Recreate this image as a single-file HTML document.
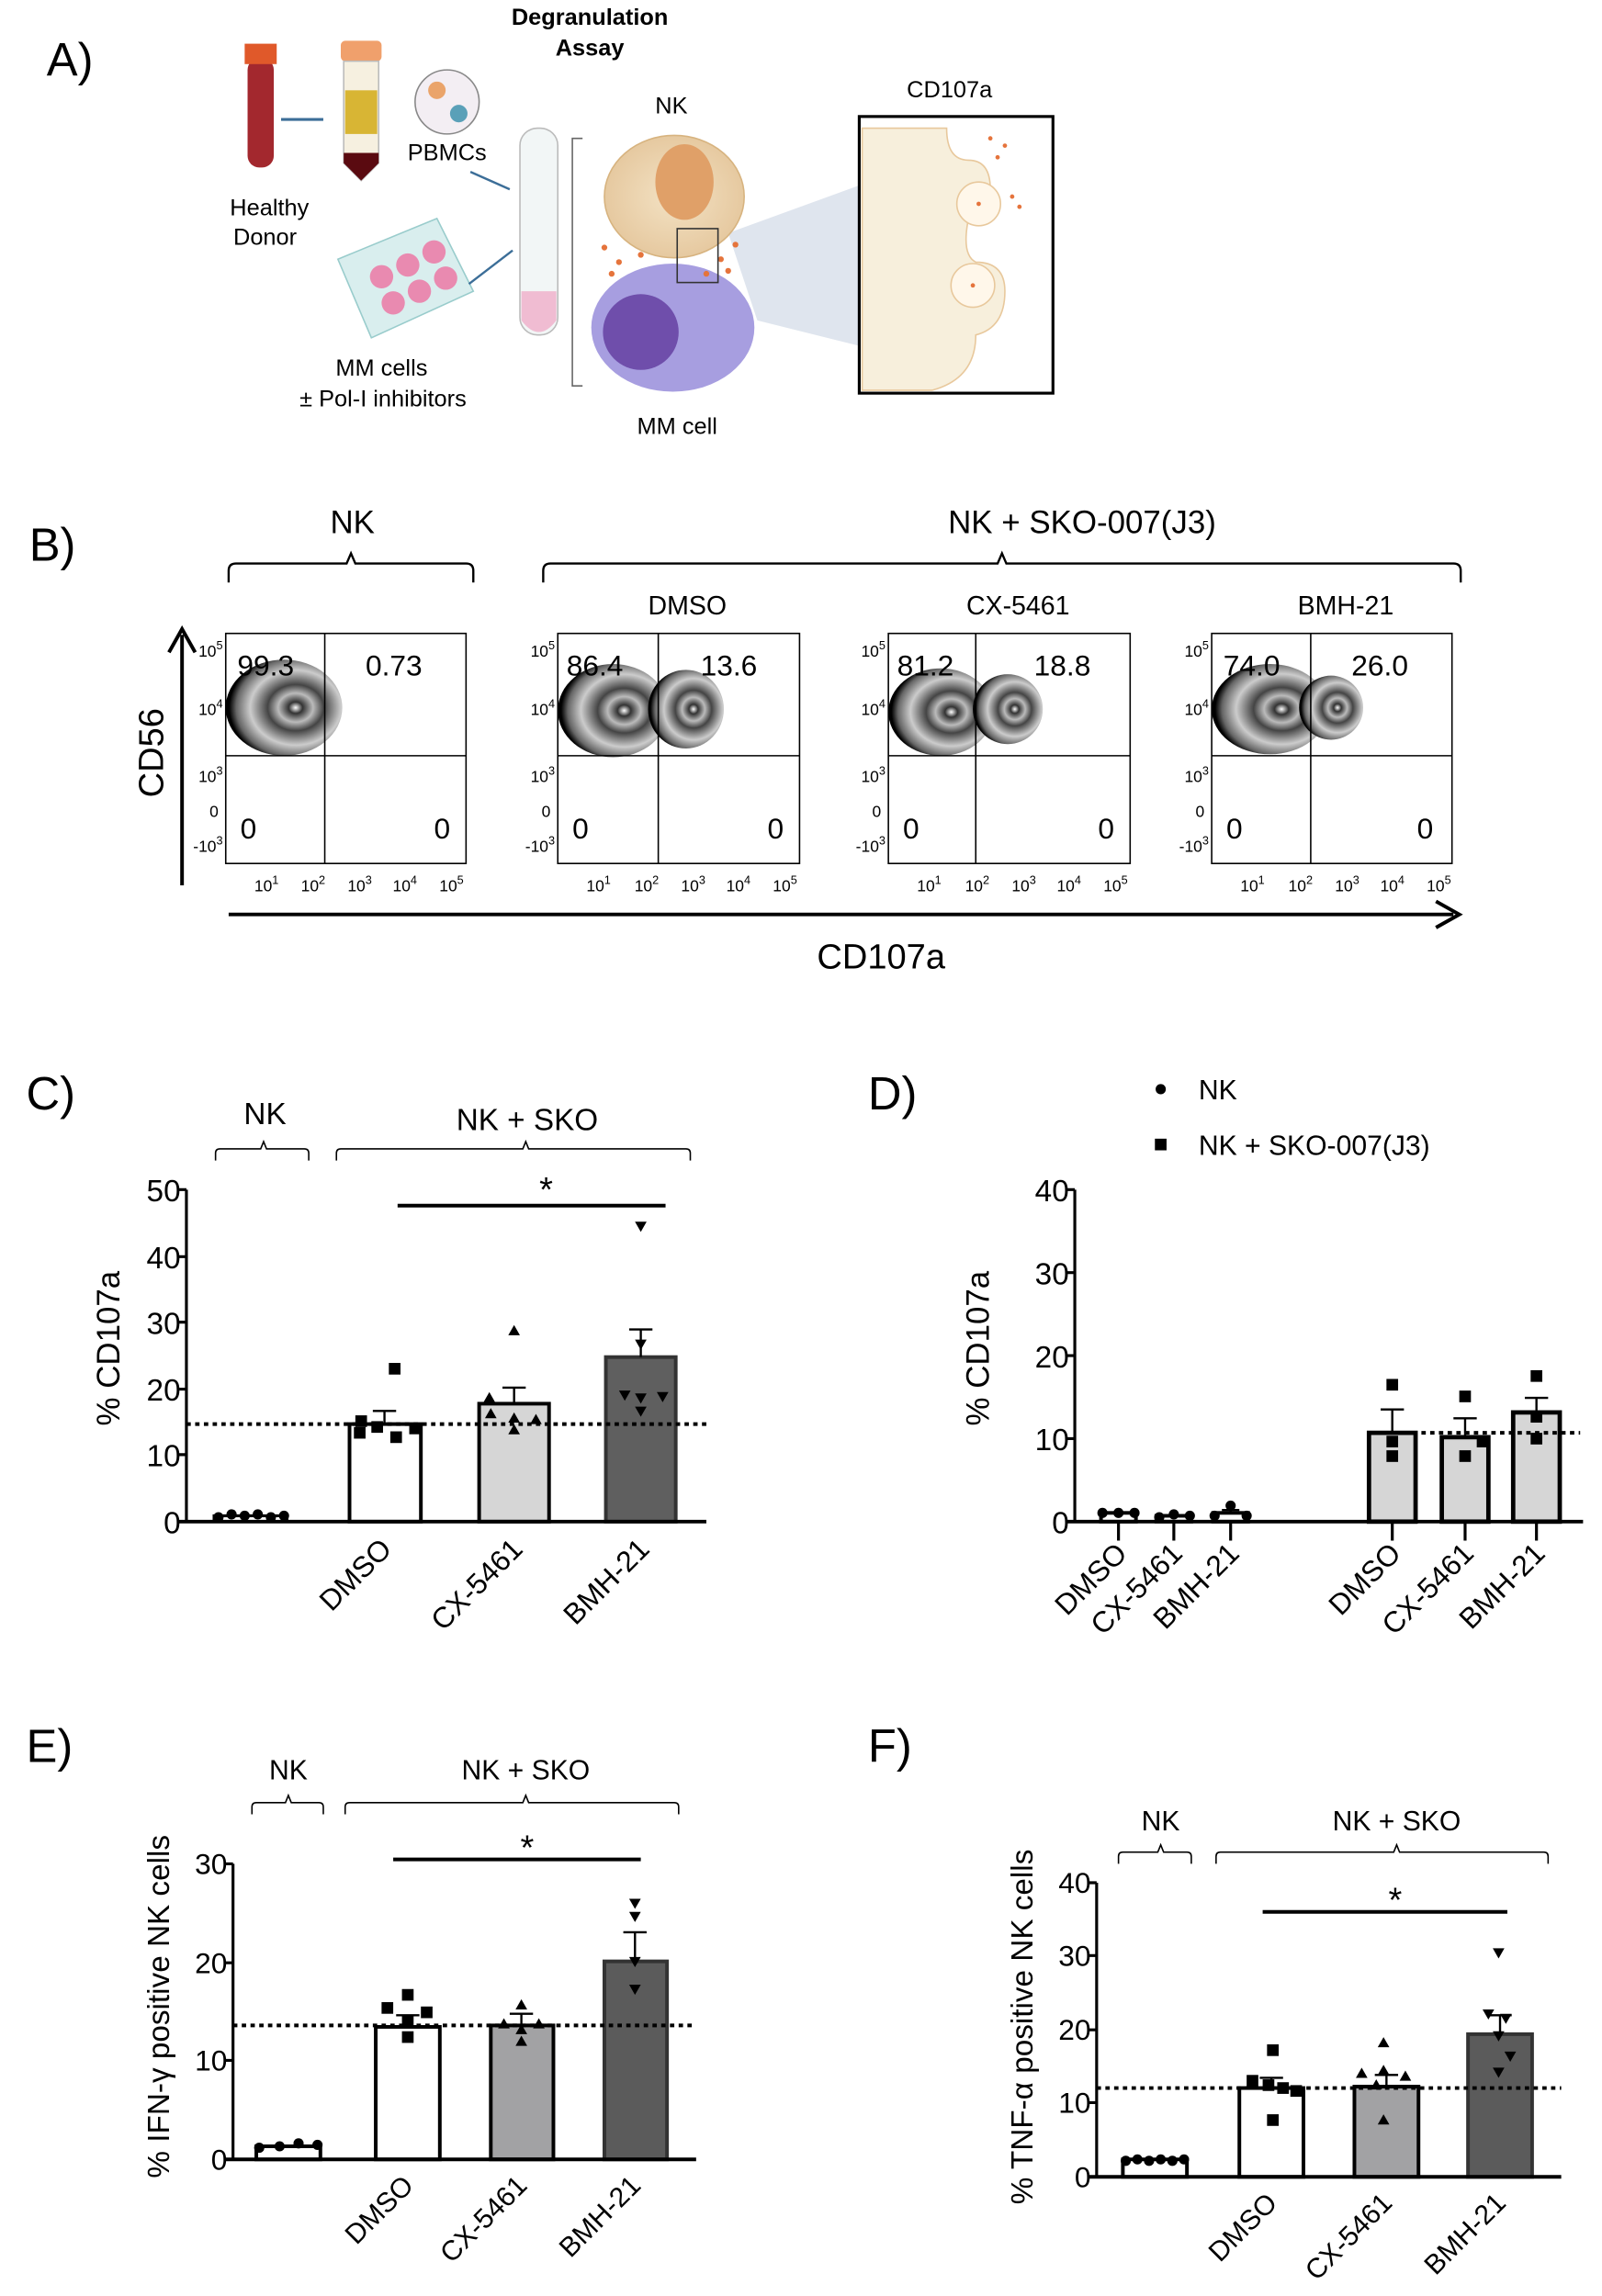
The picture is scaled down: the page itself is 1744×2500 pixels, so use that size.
<!DOCTYPE html>
<html><head><meta charset="utf-8"><style>
html,body{margin:0;padding:0;background:#fff;}
svg{display:block;}
text{font-family:"Liberation Sans",sans-serif;fill:#000;}
</style></head><body>
<svg width="1744" height="2500" viewBox="0 0 1100 1576.8" xmlns="http://www.w3.org/2000/svg">
<defs>
<radialGradient id="g1" cx="0.6" cy="0.5" r="0.6">
<stop offset="0" stop-color="#fff"/><stop offset="0.1" stop-color="#333"/><stop offset="0.25" stop-color="#bbb"/><stop offset="0.4" stop-color="#444"/><stop offset="0.65" stop-color="#ccc"/><stop offset="0.85" stop-color="#666"/><stop offset="0.95" stop-color="#000"/><stop offset="1" stop-color="#000"/>
</radialGradient>
<radialGradient id="cellO" cx="0.5" cy="0.5" r="0.5"><stop offset="0" stop-color="#f3e2c4"/><stop offset="1" stop-color="#e6c9a0"/></radialGradient>
</defs>

<!-- Panel A -->
<text x="32" y="52" font-size="32">A)</text>
<text x="405" y="17" font-size="16" font-weight="bold" text-anchor="middle">Degranulation</text>
<text x="405" y="38" font-size="16" font-weight="bold" text-anchor="middle">Assay</text>
<rect x="170" y="40" width="18" height="75" rx="8" fill="#a3282e"/>
<rect x="168" y="30" width="22" height="14" fill="#e0592a"/>
<line x1="193" y1="82" x2="222" y2="82" stroke="#3c6e98" stroke-width="2"/>
<rect x="234" y="28" width="28" height="14" rx="3" fill="#f0a06c"/>
<path d="M236 42 H260 V112 L248 124 L236 112 Z" fill="#f6f0e0" stroke="#bbb"/>
<rect x="237" y="62" width="22" height="30" fill="#d8b534"/>
<path d="M236 105 H260 V112 L248 124 L236 112 Z" fill="#5a0a10"/>
<circle cx="307" cy="70" r="22" fill="#f3eef3" stroke="#888"/>
<circle cx="300" cy="62" r="6" fill="#eaa46a"/><circle cx="315" cy="78" r="6" fill="#5aa0b8"/>
<text x="307" y="110" font-size="16" text-anchor="middle">PBMCs</text>
<text x="185" y="148" font-size="16" text-anchor="middle">Healthy</text>
<text x="182" y="168" font-size="16" text-anchor="middle">Donor</text>
<path d="M232 178 L300 150 L325 200 L255 232 Z" fill="#d9eeee" stroke="#9cc"/>
<circle cx="262" cy="190" r="8" fill="#e98ab0"/><circle cx="280" cy="182" r="8" fill="#e98ab0"/><circle cx="298" cy="173" r="8" fill="#e98ab0"/>
<circle cx="270" cy="208" r="8" fill="#e98ab0"/><circle cx="288" cy="200" r="8" fill="#e98ab0"/><circle cx="306" cy="191" r="8" fill="#e98ab0"/>
<text x="262" y="258" font-size="16" text-anchor="middle">MM cells</text>
<text x="263" y="279" font-size="16" text-anchor="middle">± Pol-I inhibitors</text>
<line x1="323" y1="118" x2="350" y2="130" stroke="#3c6e98" stroke-width="1.5"/>
<line x1="322" y1="195" x2="352" y2="172" stroke="#3c6e98" stroke-width="1.5"/>
<rect x="357" y="88" width="26" height="142" rx="12" fill="#f2f6f6" stroke="#bbb"/>
<path d="M358 200 H382 V220 Q370 236 358 220 Z" fill="#f0bcd2"/>
<path d="M400 95 H393 V265 H400" fill="none" stroke="#666"/>
<text x="461" y="78" font-size="16" text-anchor="middle">NK</text>
<path d="M500 160 L720 80 L720 270 L520 220 Z" fill="#dfe5ee"/>
<ellipse cx="462" cy="225" rx="56" ry="44" fill="#a79ee0"/>
<ellipse cx="440" cy="228" rx="26" ry="26" fill="#6f4eab"/>
<ellipse cx="463" cy="135" rx="48" ry="42" fill="url(#cellO)" stroke="#d7b37f"/>
<ellipse cx="470" cy="125" rx="20" ry="26" fill="#e0a068"/>
<g fill="#e5743c"><circle cx="415" cy="170" r="2"/><circle cx="425" cy="180" r="2"/><circle cx="440" cy="175" r="2"/><circle cx="495" cy="178" r="2"/><circle cx="505" cy="168" r="2"/><circle cx="420" cy="188" r="2"/><circle cx="485" cy="188" r="2"/><circle cx="500" cy="186" r="2"/></g>
<rect x="465" y="157" width="28" height="37" fill="none" stroke="#333"/>
<text x="465" y="298" font-size="16" text-anchor="middle">MM cell</text>
<text x="652" y="67" font-size="16" text-anchor="middle">CD107a</text>
<rect x="590" y="80" width="133" height="190" fill="#fff" stroke="#000" stroke-width="2"/>
<path d="M592 88 H650 Q650 110 665 110 Q680 110 680 130 Q680 150 665 150 Q660 175 670 180 Q690 180 690 200 Q690 225 670 230 Q670 260 640 268 H592 Z" fill="#f7efdc" stroke="#e8c89c"/>
<circle cx="672" cy="140" r="15" fill="#fff7ea" stroke="#e8c89c"/>
<circle cx="668" cy="196" r="15" fill="#fff7ea" stroke="#e8c89c"/>
<g fill="#e5743c"><circle cx="680" cy="95" r="1.5"/><circle cx="690" cy="100" r="1.5"/><circle cx="685" cy="108" r="1.5"/><circle cx="695" cy="135" r="1.5"/><circle cx="700" cy="142" r="1.5"/><circle cx="672" cy="140" r="1.5"/><circle cx="668" cy="196" r="1.5"/></g>

<!-- Panel B -->
<text x="20" y="385" font-size="32">B)</text>
<text x="242" y="366" font-size="22" text-anchor="middle">NK</text>
<path d="M157 400 V392 Q157 387 162 387 H238 L241 380 L244 387 H320 Q325 387 325 392 V400" fill="none" stroke="#000" stroke-width="1.5"/>
<text x="743" y="366" font-size="22" text-anchor="middle">NK + SKO-007(J3)</text>
<path d="M373 400 V392 Q373 387 378 387 H685 L688 380 L691 387 H998 Q1003 387 1003 392 V400" fill="none" stroke="#000" stroke-width="1.5"/>
<text x="472" y="422" font-size="18" text-anchor="middle">DMSO</text>
<text x="699" y="422" font-size="18" text-anchor="middle">CX-5461</text>
<text x="924" y="422" font-size="18" text-anchor="middle">BMH-21</text>

<g transform="translate(155,0)">
<rect x="0" y="435" width="165" height="158" fill="#fff" stroke="#000"/>
<ellipse cx="40" cy="486" rx="40" ry="33" fill="url(#g1)"/>
<line x1="68" y1="435" x2="68" y2="593" stroke="#000"/><line x1="0" y1="519" x2="165" y2="519" stroke="#000"/>
<text x="8" y="464" font-size="20">99.3</text><text x="96" y="464" font-size="20">0.73</text>
<text x="10" y="576" font-size="20">0</text><text x="143" y="576" font-size="20">0</text>
</g>
<g transform="translate(383,0)">
<rect x="0" y="435" width="166" height="158" fill="#fff" stroke="#000"/>
<ellipse cx="38" cy="488" rx="38" ry="32" fill="url(#g1)"/><ellipse cx="88" cy="487" rx="26" ry="27" fill="url(#g1)"/>
<line x1="69" y1="435" x2="69" y2="593" stroke="#000"/><line x1="0" y1="519" x2="166" y2="519" stroke="#000"/>
<text x="6" y="464" font-size="20">86.4</text><text x="98" y="464" font-size="20">13.6</text>
<text x="10" y="576" font-size="20">0</text><text x="144" y="576" font-size="20">0</text>
</g>
<g transform="translate(610,0)">
<rect x="0" y="435" width="166" height="158" fill="#fff" stroke="#000"/>
<ellipse cx="36" cy="489" rx="36" ry="30" fill="url(#g1)"/><ellipse cx="82" cy="487" rx="24" ry="24" fill="url(#g1)"/>
<line x1="60" y1="435" x2="60" y2="593" stroke="#000"/><line x1="0" y1="519" x2="166" y2="519" stroke="#000"/>
<text x="6" y="464" font-size="20">81.2</text><text x="100" y="464" font-size="20">18.8</text>
<text x="10" y="576" font-size="20">0</text><text x="144" y="576" font-size="20">0</text>
</g>
<g transform="translate(832,0)">
<rect x="0" y="435" width="165" height="158" fill="#fff" stroke="#000"/>
<ellipse cx="40" cy="487" rx="40" ry="31" fill="url(#g1)"/><ellipse cx="82" cy="486" rx="22" ry="22" fill="url(#g1)"/>
<line x1="68" y1="435" x2="68" y2="593" stroke="#000"/><line x1="0" y1="519" x2="165" y2="519" stroke="#000"/>
<text x="8" y="464" font-size="20">74.0</text><text x="96" y="464" font-size="20">26.0</text>
<text x="10" y="576" font-size="20">0</text><text x="141" y="576" font-size="20">0</text>
</g>
<g font-size="11">
<g text-anchor="end">
<text x="153" y="451">10<tspan dy="-5" font-size="8">5</tspan></text><text x="153" y="491">10<tspan dy="-5" font-size="8">4</tspan></text><text x="153" y="537">10<tspan dy="-5" font-size="8">3</tspan></text><text x="150" y="561">0</text><text x="153" y="585">-10<tspan dy="-5" font-size="8">3</tspan></text>
<text x="381" y="451">10<tspan dy="-5" font-size="8">5</tspan></text><text x="381" y="491">10<tspan dy="-5" font-size="8">4</tspan></text><text x="381" y="537">10<tspan dy="-5" font-size="8">3</tspan></text><text x="378" y="561">0</text><text x="381" y="585">-10<tspan dy="-5" font-size="8">3</tspan></text>
<text x="608" y="451">10<tspan dy="-5" font-size="8">5</tspan></text><text x="608" y="491">10<tspan dy="-5" font-size="8">4</tspan></text><text x="608" y="537">10<tspan dy="-5" font-size="8">3</tspan></text><text x="605" y="561">0</text><text x="608" y="585">-10<tspan dy="-5" font-size="8">3</tspan></text>
<text x="830" y="451">10<tspan dy="-5" font-size="8">5</tspan></text><text x="830" y="491">10<tspan dy="-5" font-size="8">4</tspan></text><text x="830" y="537">10<tspan dy="-5" font-size="8">3</tspan></text><text x="827" y="561">0</text><text x="830" y="585">-10<tspan dy="-5" font-size="8">3</tspan></text>
</g>
<g text-anchor="middle">
<text x="183" y="612">10<tspan dy="-5" font-size="8">1</tspan></text><text x="215" y="612">10<tspan dy="-5" font-size="8">2</tspan></text><text x="247" y="612">10<tspan dy="-5" font-size="8">3</tspan></text><text x="278" y="612">10<tspan dy="-5" font-size="8">4</tspan></text><text x="310" y="612">10<tspan dy="-5" font-size="8">5</tspan></text>
<text x="411" y="612">10<tspan dy="-5" font-size="8">1</tspan></text><text x="444" y="612">10<tspan dy="-5" font-size="8">2</tspan></text><text x="476" y="612">10<tspan dy="-5" font-size="8">3</tspan></text><text x="507" y="612">10<tspan dy="-5" font-size="8">4</tspan></text><text x="539" y="612">10<tspan dy="-5" font-size="8">5</tspan></text>
<text x="638" y="612">10<tspan dy="-5" font-size="8">1</tspan></text><text x="671" y="612">10<tspan dy="-5" font-size="8">2</tspan></text><text x="703" y="612">10<tspan dy="-5" font-size="8">3</tspan></text><text x="734" y="612">10<tspan dy="-5" font-size="8">4</tspan></text><text x="766" y="612">10<tspan dy="-5" font-size="8">5</tspan></text>
<text x="860" y="612">10<tspan dy="-5" font-size="8">1</tspan></text><text x="893" y="612">10<tspan dy="-5" font-size="8">2</tspan></text><text x="925" y="612">10<tspan dy="-5" font-size="8">3</tspan></text><text x="956" y="612">10<tspan dy="-5" font-size="8">4</tspan></text><text x="988" y="612">10<tspan dy="-5" font-size="8">5</tspan></text>
</g></g>
<line x1="125" y1="608" x2="125" y2="436" stroke="#000" stroke-width="2.5"/>
<path d="M116 448 L125 432 L134 448" fill="none" stroke="#000" stroke-width="2.5"/>
<text transform="translate(112,517) rotate(-90)" font-size="24" text-anchor="middle">CD56</text>
<line x1="157" y1="628" x2="998" y2="628" stroke="#000" stroke-width="2.5"/>
<path d="M986 619 L1002 628 L986 637" fill="none" stroke="#000" stroke-width="2.5"/>
<text x="605" y="665" font-size="24" text-anchor="middle">CD107a</text>

<!-- Panel C -->
<text x="18" y="762" font-size="32">C)</text>
<text x="182" y="772" font-size="21" text-anchor="middle">NK</text>
<path d="M148 797 V792 Q148 789 151 789 H179 L181 784 L183 789 H209 Q212 789 212 792 V797" fill="none" stroke="#000" stroke-width="1"/>
<text x="362" y="776" font-size="21" text-anchor="middle">NK + SKO</text>
<path d="M231 797 V792 Q231 789 234 789 H359 L361 784 L363 789 H471 Q474 789 474 792 V797" fill="none" stroke="#000" stroke-width="1"/>
<g font-size="21" text-anchor="end">
<text x="124" y="825">50</text><text x="124" y="871">40</text><text x="124" y="916">30</text><text x="124" y="962">20</text><text x="124" y="1007">10</text><text x="124" y="1053">0</text>
</g>
<path d="M128 817 V1045 M122 817 H128 M122 863 H128 M122 908 H128 M122 954 H128 M122 999 H128 M122 1045 H128" stroke="#000" stroke-width="2" fill="none"/>
<text transform="translate(82,926) rotate(-90)" font-size="22" text-anchor="middle">% CD107a</text>
<rect x="147" y="1041" width="50" height="4" fill="#fff" stroke="#000" stroke-width="2"/>
<g fill="#000"><circle cx="150" cy="1042" r="3.5"/><circle cx="159" cy="1040" r="3.5"/><circle cx="168" cy="1041" r="3.5"/><circle cx="177" cy="1040" r="3.5"/><circle cx="186" cy="1042" r="3.5"/><circle cx="195" cy="1041" r="3.5"/></g>
<rect x="240" y="978" width="49" height="67" fill="#fff" stroke="#000" stroke-width="2.5"/>
<rect x="329" y="964" width="48" height="81" fill="#d6d6d6" stroke="#000" stroke-width="2.5"/>
<rect x="416" y="932" width="48" height="113" fill="#5f5f5f" stroke="#333" stroke-width="2.5"/>
<path d="M264 978 V969 M256 969 H272 M353 964 V953 M345 953 H361 M440 932 V913 M432 913 H448" stroke="#000" stroke-width="1.5"/>
<g fill="#000">
<rect x="267" y="936" width="8" height="8"/><rect x="243" y="980" width="8" height="8"/><rect x="255" y="976" width="8" height="8"/><rect x="268" y="983" width="8" height="8"/><rect x="281" y="977" width="8" height="8"/><rect x="244" y="972" width="8" height="8"/>
<path d="M353 910 l4 7 h-8z M336 956 l4 7 h-8z M337 967 l4 7 h-8z M353 970 l4 7 h-8z M353 978 l4 7 h-8z M368 971 l4 7 h-8z"/>
<path d="M436 839 h8 l-4 7z M436 920 h8 l-4 7z M425 955 h8 l-4 7z M436 957 h8 l-4 7z M451 956 h8 l-4 7z M436 966 h8 l-4 7z"/>
</g>
<line x1="128" y1="978" x2="485" y2="978" stroke="#000" stroke-width="2.5" stroke-dasharray="3,3"/>
<line x1="123" y1="1045" x2="485" y2="1045" stroke="#000" stroke-width="2.5"/>
<line x1="273" y1="828" x2="457" y2="828" stroke="#000" stroke-width="2.5"/>
<text x="375" y="825" font-size="24" text-anchor="middle">*</text>
<g font-size="20" text-anchor="end">
<text transform="translate(270,1065) rotate(-45)">DMSO</text>
<text transform="translate(360,1065) rotate(-45)">CX-5461</text>
<text transform="translate(447,1065) rotate(-45)">BMH-21</text>
</g>

<!-- Panel D -->
<text x="596" y="762" font-size="32">D)</text>
<circle cx="797" cy="748" r="3.5" fill="#000"/><text x="823" y="755" font-size="19">NK</text>
<rect x="793" y="782" width="8" height="8" fill="#000"/><text x="823" y="793" font-size="19">NK + SKO-007(J3)</text>
<g font-size="21" text-anchor="end">
<text x="734" y="825">40</text><text x="734" y="882">30</text><text x="734" y="939">20</text><text x="734" y="996">10</text><text x="734" y="1053">0</text>
</g>
<path d="M738 817 V1045 M732 817 H738 M732 874 H738 M732 931 H738 M732 988 H738 M732 1045 H738" stroke="#000" stroke-width="2" fill="none"/>
<text transform="translate(679,926) rotate(-90)" font-size="22" text-anchor="middle">% CD107a</text>
<g fill="#fff" stroke="#000" stroke-width="2.5">
<rect x="756" y="1039" width="24" height="6"/><rect x="794" y="1041" width="24" height="4"/><rect x="833" y="1039" width="24" height="6"/>
</g>
<g fill="#000"><circle cx="757" cy="1039" r="3.5"/><circle cx="768" cy="1039" r="3.5"/><circle cx="779" cy="1039" r="3.5"/><circle cx="796" cy="1042" r="3.5"/><circle cx="806" cy="1040" r="3.5"/><circle cx="817" cy="1041" r="3.5"/><circle cx="834" cy="1041" r="3.5"/><circle cx="845" cy="1034" r="3.5"/><circle cx="856" cy="1041" r="3.5"/></g>
<path d="M845 1038 V1037 M839 1037 H851" stroke="#000" stroke-width="1.5"/>
<rect x="940" y="984" width="32" height="61" fill="#d6d6d6" stroke="#000" stroke-width="3"/>
<rect x="990" y="987" width="32" height="58" fill="#d6d6d6" stroke="#000" stroke-width="3"/>
<rect x="1039" y="970" width="32" height="75" fill="#d6d6d6" stroke="#000" stroke-width="3"/>
<path d="M956 984 V968 M948 968 H964 M1006 987 V974 M998 974 H1014 M1055 970 V960 M1047 960 H1063" stroke="#000" stroke-width="1.5"/>
<g fill="#000"><rect x="952" y="947" width="8" height="8"/><rect x="952" y="986" width="8" height="8"/><rect x="952" y="996" width="8" height="8"/><rect x="1002" y="955" width="8" height="8"/><rect x="1002" y="996" width="8" height="8"/><rect x="1014" y="986" width="8" height="8"/><rect x="1051" y="941" width="8" height="8"/><rect x="1051" y="969" width="8" height="8"/><rect x="1051" y="984" width="8" height="8"/></g>
<line x1="940" y1="984" x2="1085" y2="984" stroke="#000" stroke-width="2.5" stroke-dasharray="3,3"/>
<line x1="733" y1="1045" x2="1087" y2="1045" stroke="#000" stroke-width="2.5"/>
<path d="M768 1045 V1058 M806 1045 V1058 M845 1045 V1058 M956 1045 V1058 M1006 1045 V1058 M1055 1045 V1058" stroke="#000" stroke-width="2"/>
<g font-size="20" text-anchor="end">
<text transform="translate(775,1068) rotate(-45)">DMSO</text>
<text transform="translate(813,1068) rotate(-45)">CX-5461</text>
<text transform="translate(852,1068) rotate(-45)">BMH-21</text>
<text transform="translate(963,1068) rotate(-45)">DMSO</text>
<text transform="translate(1013,1068) rotate(-45)">CX-5461</text>
<text transform="translate(1062,1068) rotate(-45)">BMH-21</text>
</g>

<!-- Panel E -->
<text x="18" y="1210" font-size="32">E)</text>
<text x="198" y="1222" font-size="19" text-anchor="middle">NK</text>
<path d="M173 1246 V1241 Q173 1238 176 1238 H196 L198 1233 L200 1238 H219 Q222 1238 222 1241 V1246" fill="none" stroke="#000" stroke-width="1"/>
<text x="361" y="1222" font-size="19" text-anchor="middle">NK + SKO</text>
<path d="M237 1246 V1241 Q237 1238 240 1238 H359 L361 1233 L363 1238 H463 Q466 1238 466 1241 V1246" fill="none" stroke="#000" stroke-width="1"/>
<g font-size="20" text-anchor="end">
<text x="156" y="1287">30</text><text x="156" y="1355">20</text><text x="156" y="1422">10</text><text x="156" y="1490">0</text>
</g>
<path d="M160 1280 V1483 M154 1280 H160 M154 1348 H160 M154 1415 H160 M154 1483 H160" stroke="#000" stroke-width="2" fill="none"/>
<text transform="translate(116,1378) rotate(-90)" font-size="21" text-anchor="middle">% IFN-γ positive NK cells</text>
<rect x="176" y="1474" width="44" height="9" fill="#fff" stroke="#000" stroke-width="2.5"/>
<g fill="#000"><circle cx="178" cy="1475" r="3.5"/><circle cx="192" cy="1474" r="3.5"/><circle cx="205" cy="1472" r="3.5"/><circle cx="218" cy="1473" r="3.5"/></g>
<rect x="258" y="1392" width="44" height="91" fill="#fff" stroke="#000" stroke-width="2.5"/>
<rect x="337" y="1391" width="43" height="92" fill="#a2a2a4" stroke="#000" stroke-width="2.5"/>
<rect x="415" y="1347" width="43" height="136" fill="#5b5b5b" stroke="#333" stroke-width="2.5"/>
<path d="M280 1392 V1384 M272 1384 H288 M358 1391 V1383 M350 1383 H366 M436 1347 V1327 M428 1327 H444" stroke="#000" stroke-width="1.5"/>
<g fill="#000">
<rect x="276" y="1366" width="8" height="8"/><rect x="262" y="1375" width="8" height="8"/><rect x="276" y="1384" width="8" height="8"/><rect x="276" y="1395" width="8" height="8"/><rect x="289" y="1378" width="8" height="8"/>
<path d="M358 1373 l4 7 h-8z M346 1386 l4 7 h-8z M358 1390 l4 7 h-8z M370 1386 l4 7 h-8z M358 1398 l4 7 h-8z"/>
<path d="M432 1304 h8 l-4 7z M432 1313 h8 l-4 7z M432 1344 h8 l-4 7z M432 1363 h8 l-4 7z"/>
</g>
<line x1="160" y1="1391" x2="478" y2="1391" stroke="#000" stroke-width="2.5" stroke-dasharray="3,3"/>
<line x1="155" y1="1483" x2="478" y2="1483" stroke="#000" stroke-width="2.5"/>
<line x1="270" y1="1277" x2="440" y2="1277" stroke="#000" stroke-width="2.5"/>
<text x="362" y="1277" font-size="24" text-anchor="middle">*</text>
<g font-size="19" text-anchor="end">
<text transform="translate(285,1502) rotate(-45)">DMSO</text>
<text transform="translate(363,1502) rotate(-45)">CX-5461</text>
<text transform="translate(441,1502) rotate(-45)">BMH-21</text>
</g>

<!-- Panel F -->
<text x="596" y="1210" font-size="32">F)</text>
<text x="797" y="1257" font-size="19" text-anchor="middle">NK</text>
<path d="M768 1280 V1275 Q768 1272 771 1272 H795 L797 1267 L799 1272 H815 Q818 1272 818 1275 V1280" fill="none" stroke="#000" stroke-width="1"/>
<text x="959" y="1257" font-size="19" text-anchor="middle">NK + SKO</text>
<path d="M835 1280 V1275 Q835 1272 838 1272 H957 L959 1267 L961 1272 H1060 Q1063 1272 1063 1275 V1280" fill="none" stroke="#000" stroke-width="1"/>
<g font-size="20" text-anchor="end">
<text x="749" y="1300">40</text><text x="749" y="1350">30</text><text x="749" y="1401">20</text><text x="749" y="1451">10</text><text x="749" y="1502">0</text>
</g>
<path d="M753 1293 V1495 M747 1293 H753 M747 1343 H753 M747 1394 H753 M747 1444 H753 M747 1495 H753" stroke="#000" stroke-width="2" fill="none"/>
<text transform="translate(709,1392) rotate(-90)" font-size="21" text-anchor="middle">% TNF-α positive NK cells</text>
<rect x="771" y="1483" width="44" height="12" fill="#fff" stroke="#000" stroke-width="2.5"/>
<g fill="#000"><circle cx="773" cy="1484" r="3.5"/><circle cx="781" cy="1483" r="3.5"/><circle cx="789" cy="1484" r="3.5"/><circle cx="797" cy="1483" r="3.5"/><circle cx="805" cy="1484" r="3.5"/><circle cx="813" cy="1483" r="3.5"/></g>
<rect x="851" y="1434" width="44" height="61" fill="#fff" stroke="#000" stroke-width="2.5"/>
<rect x="930" y="1433" width="44" height="62" fill="#a2a2a4" stroke="#000" stroke-width="2.5"/>
<rect x="1008" y="1397" width="44" height="98" fill="#5b5b5b" stroke="#333" stroke-width="2.5"/>
<path d="M873 1434 V1427 M865 1427 H881 M952 1433 V1425 M944 1425 H960 M1030 1397 V1384 M1022 1384 H1038" stroke="#000" stroke-width="1.5"/>
<g fill="#000">
<rect x="870" y="1404" width="8" height="8"/><rect x="856" y="1425" width="8" height="8"/><rect x="867" y="1428" width="8" height="8"/><rect x="877" y="1430" width="8" height="8"/><rect x="886" y="1432" width="8" height="8"/><rect x="870" y="1452" width="8" height="8"/>
<path d="M950 1399 l4 7 h-8z M935 1420 l4 7 h-8z M950 1418 l4 7 h-8z M965 1422 l4 7 h-8z M945 1428 l4 7 h-8z M950 1452 l4 7 h-8z"/>
<path d="M1025 1338 h8 l-4 7z M1018 1380 h8 l-4 7z M1030 1383 h8 l-4 7z M1025 1395 h8 l-4 7z M1033 1409 h8 l-4 7z M1025 1420 h8 l-4 7z"/>
</g>
<line x1="753" y1="1434" x2="1072" y2="1434" stroke="#000" stroke-width="2.5" stroke-dasharray="3,3"/>
<line x1="748" y1="1495" x2="1072" y2="1495" stroke="#000" stroke-width="2.5"/>
<line x1="867" y1="1313" x2="1035" y2="1313" stroke="#000" stroke-width="2.5"/>
<text x="958" y="1313" font-size="24" text-anchor="middle">*</text>
<g font-size="19" text-anchor="end">
<text transform="translate(878,1514) rotate(-45)">DMSO</text>
<text transform="translate(957,1514) rotate(-45)">CX-5461</text>
<text transform="translate(1035,1514) rotate(-45)">BMH-21</text>
</g>
</svg>
</body></html>
